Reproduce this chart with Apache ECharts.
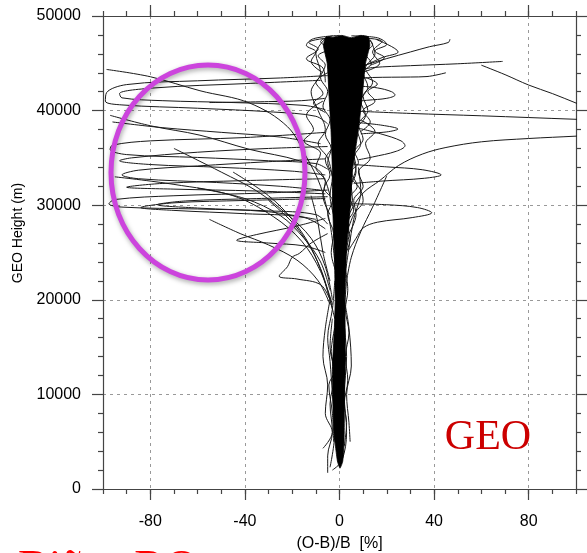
<!DOCTYPE html>
<html><head><meta charset="utf-8">
<script src="https://cdn.jsdelivr.net/npm/echarts@6/dist/echarts.min.js"></script>
<style>html,body{margin:0;padding:0;background:#fff}#c{width:587px;height:553px}</style>
</head><body><div id="c"></div>
<script>
// ---- axis / text content ----
const xMajorTicks = [-80, -40, 0, 40, 80];
const xMinorStep = 10;
const yTickStep = 10000;
const xName = '(O-B)/B  [%]';
const yName = 'GEO Height (m)';
const panelLabel = 'GEO';
const captionLabel = 'Biñas RO';

// ---- dense core envelope: [x %, height m] ----
const coreLeft = [[-5.6,47800],[-6.8,46900],[-5.2,45000],[-4.4,41500],[-3.6,38000],[-3.0,33700],[-2.9,30000],[-2.2,25300],[-1.8,20000],[-2.2,16800],[-3.0,12600],[-2.8,10000],[-2.4,6200],[-1.5,4100],[-0.8,2850],[0.2,2200]];
const coreRight = [[12.2,47800],[12.8,46900],[11.0,45000],[9.6,41500],[8.0,38000],[5.5,33700],[4.6,30000],[3.0,25300],[2.3,20000],[2.4,16800],[2.4,12600],[2.1,10000],[2.0,6200],[1.8,4100],[1.3,2850]];
const coreTop = [[9,47950],[5,47700],[1,47950],[-3,47750]];

// ---- individual outlying profiles: [x %, height m] ----
const profR1 = [[8,44500],[12,44900],[20,45500],[30,46200],[38,46750],[46,47200],[46.7,47550]];
const profR1b = [[6,44200],[18,45600],[24.8,46200],[15.7,47500]];
const profR2 = [[9,44300],[14,44550],[30,44750],[50,44950],[69,45200]];
const profR3 = [[60,44800],[70,43800],[80,42700],[90,41800],[100,40800],[106,40200]];
const profR4 = [[9,43400],[14,43500],[30,43550],[37,43600],[45,44000]];
const profR5 = [[8,42600],[16,42400],[22,42000],[23.5,41650],[20,41300],[12,41100],[8,41000]];
const profR6 = [[6,39950],[30,39700],[60,39450],[100,39080],[110,39000]];
const profR7 = [[7,38750],[18,38450],[24.7,38050],[20,37750],[9,37550]];
const profR8 = [[7,38200],[18,37500],[26,36800],[27.7,36300],[24,35700],[14,35100],[8,34800]];
const profR9 = [[2,27500],[5,29500],[10,31300],[17,32600],[25,34200],[35,35400],[45,36100],[60,36700],[80,37050],[100,37300],[110,37450]];
const profR10 = [[6,34300],[20,34050],[35,33750],[43,33200],[36,32850],[18,32550],[6,32300]];
const profR11 = [[5,30150],[20,30050],[33,29750],[39,29200],[31,28700],[16,28200],[10,27600],[7,26500],[4,25300]];
const profR12 = [[3,33000],[8,32000],[10,30500],[6,29000],[3,27000]];
const profR13 = [[8,34000],[9,31500],[6,28500],[4,25500],[2,22000]];
const profR14 = [[20,33100],[14,29800],[9,27200],[5,24500],[3,22000]];

const profL1 = [[-98.5,44350],[-80,43580],[-59,42100],[-38,40800],[-22,38300],[-14,35100],[-8,32000],[-4,28000],[-2,24000]];
const profL2 = [[-5,43700],[-25,43450],[-60,43150],[-90,42750],[-98.5,41900],[-99,41000],[-92,40600],[-60,40250],[-28,39850],[-10,39400],[-5,38600]];
const profL3 = [[-8,43200],[-40,42850],[-78,42400],[-93,41800],[-92,41350],[-75,41050],[-45,40850],[-15,40550],[-6,40100]];
const profL4 = [[-55,40850],[-30,40950],[-16,41050],[-6,41300]];
const profL5 = [[-97,39500],[-80,38400],[-59,37400],[-38,35900],[-17,34700],[-8,33500],[-4,31000]];
const profL6 = [[-6,37700],[-40,37150],[-80,36800],[-96,36350],[-97,35900],[-90,35350],[-60,35050],[-30,34700],[-10,34400],[-5,33800]];
const profL7 = [[-6,34900],[-30,34600],[-60,34150],[-85,33700],[-92,33200],[-85,32800],[-52,32400],[-25,32000],[-8,31600]];
const profL8 = [[-5,31600],[-30,31300],[-70,31000],[-95,30600],[-97.5,30150],[-92,29800],[-60,29600],[-30,29400],[-10,29000],[-5,28000]];
const profL9 = [[-6,30700],[-40,30500],[-70,30250],[-84,29750],[-70,29450],[-40,29100],[-15,28700],[-6,27500]];
const profL10 = [[-5,30900],[-35,30700],[-65,30450],[-77,30050],[-60,29700],[-30,29300],[-10,28500]];
const profL11 = [[-6,28600],[-18,27800],[-35,26900],[-43.5,26300],[-30,26000],[-15,25700],[-6,25000]];
const profL12 = [[-5,27000],[-12,26000],[-17,24900],[-20,24500],[-22,23500],[-25.5,22500],[-18,22200],[-8,21600],[-4,20000]];
const profL13 = [[-5,36200],[-30,36000],[-60,35600],[-88,35000],[-93,34700],[-80,34300],[-50,34000],[-20,33600],[-6,33200]];
const profL14 = [[-96,38800],[-75,38200],[-50,37700],[-25,37200],[-8,36500]];
const profL15 = [[-6,32800],[-40,32600],[-75,32300],[-90,31900],[-70,31700],[-35,31500],[-6,31200]];

const profD1 = [[-70,36000],[-50,33500],[-35,31500],[-22,29000],[-12,26500],[-6,23500],[-3,20000]];
const profD2 = [[-95,33000],[-70,32200],[-45,31000],[-28,28800],[-16,26200],[-8,23000],[-3,19500]];
const profD3 = [[-60,31800],[-40,30700],[-25,28900],[-15,26500],[-8,24000],[-4,21000]];
const profD4 = [[-45,33500],[-30,31000],[-20,28500],[-12,25500],[-7,22500],[-3,19000]];
const profD5 = [[-30,30500],[-20,28200],[-13,25800],[-8,23300],[-5,21000],[-2,18000]];
const profD6 = [[-12,31000],[-9,28000],[-7,25000],[-4,22000]];
const profD7 = [[-55,28500],[-42,27000],[-30,25800],[-18,24200],[-9,22000],[-4,19500]];

const profW1 = [[-6,47600],[-10,46000],[-8,44000],[-12,42000],[-9,40000],[-6,38000],[-9,36500],[-5,35000],[-3,33000]];
const profW2 = [[13,47500],[15,46000],[11,44500],[14,43000],[10,41500],[12,40000],[8,38500],[10,37000],[6,35500],[7,34000],[4,32000]];
const profW3 = [[-4,47700],[-13,47200],[-9,46500],[-14,45500],[-7,44500],[-6,43000]];
const profW4 = [[8,47700],[18,47300],[14,46200],[17,45000],[9,44000]];
const profW5 = [[-7,41000],[-14,39500],[-11,38000],[-15,36800],[-8,35500],[-10,34000],[-6,32500],[-7,31000],[-4,29000]];
const profW6 = [[9,39000],[15,37800],[11,36500],[13,35000],[8,33500],[10,32000],[6,30500],[7,29000],[4,27000]];

const profE1 = [[-3,47900],[-8,47300],[-5,46500],[-9,45800],[-6,44800],[-8,43500],[-5,42000],[-7,40500],[-4,39000],[-6,37500],[-3.5,36000],[-5,34500],[-3,33000],[-4,31000],[-2.5,29000]];
const profE2 = [[10,47900],[14,47000],[11,46000],[13.5,45000],[10,44000],[12,42500],[9,41000],[11,39500],[7.5,38000],[9,36500],[6,35000],[7,33500],[5,32000],[5.5,30500],[3.5,29000],[4,27000],[2.5,25000]];
const profE3 = [[0,47950],[-11,47600],[-14,46900],[-10,46200],[-12,45200],[-7,44000]];
const profE4 = [[5,47900],[16,47700],[20,47000],[15,46300],[19,45600],[13,44800]];
const profE5 = [[-5,44000],[-10,43000],[-7,41800],[-11,40800],[-6,39800]];
const profE6 = [[11,43500],[16,42800],[12,42000],[15,41000],[10,40000],[13,38800],[9,37800]];
const profE7 = [[-3,36000],[-6,34800],[-4,33200],[-6.5,31800],[-3,30500],[-5,29000],[-2.5,27000],[-3.5,25000],[-1.5,23000]];
const profE8 = [[5,36000],[8,34500],[5,33500],[7.5,32000],[4.5,30800],[6,29500],[3,28000],[4.5,26500],[2,24500]];
const profE9 = [[-2,17000],[-3.5,14500],[-2,12500],[-4.5,11000],[-3,8000],[-2.5,5000]];
const profE10 = [[2,24000],[3.5,21000],[2.5,19000],[4,16500],[2.5,14000],[3.5,11500],[2,9000],[3,7000],[2,4500]];

const profF1 = [[-4,20000],[-6,17000],[-7,14000],[-5,11000],[-6,8000],[-3,6000],[-7,4300]];
const profF2 = [[2,20000],[4,17000],[5,13000],[3,10000],[4,7000],[4.5,5000]];
const profF3 = [[-3,18000],[-4,15000],[-2,12000],[-4,9000],[-3,6000],[-5,3500],[-5,1700]];
const profF4 = [[3,22000],[2,18000],[3,14000],[2,10000],[3,6000],[1,3000],[-3,2000]];
const profF5 = [[-2,22000],[-3,19000],[-5,16000],[-4,13500],[-3,10000],[-2,6000],[-4,2300]];

const profiles = [profR1, profR1b, profR2, profR3, profR4, profR5, profR6, profR7, profR8, profR9, profR10, profR11, profR12, profR13, profR14,
  profL1, profL2, profL3, profL4, profL5, profL6, profL7, profL8, profL9, profL10, profL11, profL12, profL13, profL14, profL15,
  profD1, profD2, profD3, profD4, profD5, profD6, profD7,
  profW1, profW2, profW3, profW4, profW5, profW6,
  profE1, profE2, profE3, profE4, profE5, profE6, profE7, profE8, profE9, profE10,
  profF1, profF2, profF3, profF4, profF5];

const FONT = '"Liberation Sans", Arial, Helvetica, sans-serif';
const frame = { color: '#444', width: 1.2 };
const dashed = { color: '#999', width: 1, type: [3, 4] };

function xAx(pos, major) {
  return {
    type: 'value', min: -100, max: 100, position: pos,
    interval: major ? undefined : xMinorStep,
    axisLine: { show: major, onZero: false, lineStyle: frame },
    axisTick: major ? { show: true, inside: false, length: 11, customValues: xMajorTicks, lineStyle: frame }
                    : { show: true, inside: false, length: 5, lineStyle: frame },
    axisLabel: (major && pos === 'bottom') ? { show: true, customValues: xMajorTicks, fontSize: 16, color: '#000', margin: 25, fontFamily: FONT } : { show: false },
    splitLine: (major && pos === 'bottom') ? { show: true, lineStyle: dashed } : { show: false },
    name: (major && pos === 'bottom') ? xName : '',
    nameLocation: 'middle', nameGap: 47,
    nameTextStyle: { fontSize: 16, color: '#000', fontFamily: FONT }
  };
}
function yAx(pos) {
  const left = pos === 'left';
  return {
    type: 'value', min: 0, max: 50000, interval: yTickStep, position: pos,
    axisLine: { show: true, onZero: false, lineStyle: frame },
    axisTick: { show: true, inside: false, length: 11, lineStyle: frame },
    minorTick: { show: true, splitNumber: 5, length: 5, lineStyle: frame },
    axisLabel: left ? { show: true, fontSize: 16, color: '#000', margin: 22, fontFamily: FONT, formatter: v => String(v) } : { show: false },
    splitLine: left ? { show: true, lineStyle: dashed } : { show: false }
  };
}

const lineSeries = profiles.map(p => ({
  type: 'line', data: p, xAxisIndex: 0, yAxisIndex: 0,
  symbol: 'none', showSymbol: false, smooth: 0.35, silent: true,
  lineStyle: { color: '#1a1a1a', width: 1 }, z: 3
}));

const coreSeries = {
  type: 'custom', xAxisIndex: 0, yAxisIndex: 0, silent: true, z: 4,
  data: [[0, 0]],
  renderItem: function (params, api) {
    const pts = coreLeft.concat(coreRight.slice().reverse(), coreTop).map(p => api.coord(p));
    return { type: 'polygon', shape: { points: pts, smooth: 0.15 }, style: { fill: '#000', stroke: '#000', lineWidth: 0.8 } };
  }
};

const chart = echarts.init(document.getElementById('c'), null, { renderer: 'canvas' });
chart.setOption({
  animation: false,
  backgroundColor: '#fff',
  grid: { left: 103, top: 16, width: 473, height: 473, containLabel: false, outerBoundsMode: 'none' },
  xAxis: [xAx('bottom', true), xAx('bottom', false), xAx('top', true), xAx('top', false)],
  yAxis: [yAx('left'), yAx('right')],
  series: lineSeries.concat([coreSeries]),
  graphic: [
    { type: 'ellipse', shape: { cx: 208, cy: 172.5, rx: 97, ry: 107.5 }, z: 100,
      style: { fill: 'none', stroke: '#cc44dd', lineWidth: 5, shadowBlur: 5, shadowColor: 'rgba(0,0,0,0.35)', shadowOffsetX: 1, shadowOffsetY: 2 } },
    { type: 'text', x: 488, y: 438, z: 100,
      style: { text: panelLabel, font: '42px "Liberation Serif", "Times New Roman", serif', fill: '#cc0000', align: 'center', verticalAlign: 'middle', textAlign: 'center', textVerticalAlign: 'middle' } },
    { type: 'text', x: 18, y: 233, rotation: Math.PI / 2, z: 100,
      style: { text: yName, font: '14px ' + FONT, fill: '#000', align: 'center', verticalAlign: 'middle', textAlign: 'center', textVerticalAlign: 'middle' } },
    { type: 'text', x: 18, y: 547, z: 100,
      style: { text: captionLabel, font: '46px "Liberation Serif", "Times New Roman", serif', fill: '#ff0000', align: 'left', verticalAlign: 'top', textAlign: 'left', textVerticalAlign: 'top' } }
  ]
});
</script></body></html>
